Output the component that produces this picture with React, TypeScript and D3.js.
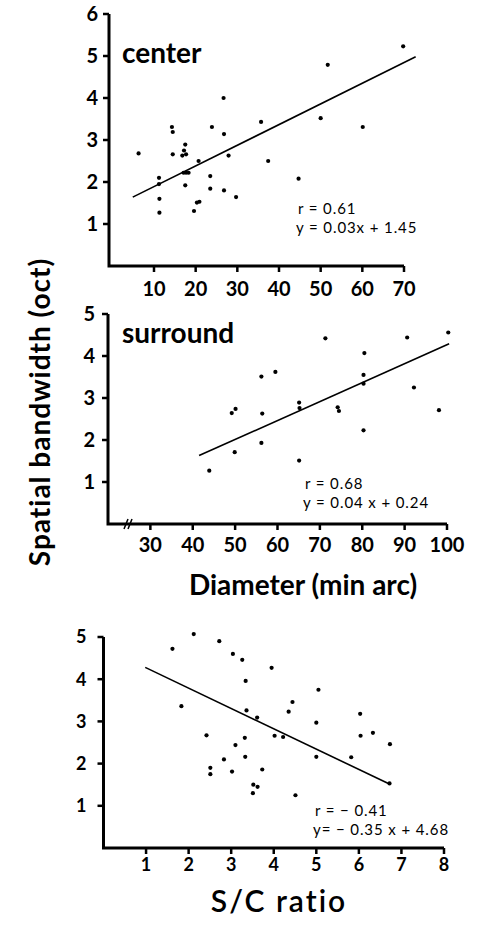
import * as d3 from 'd3';
import React from 'react';

// center panel: diameter (min arc) vs bandwidth (oct)
const centerDiam = [6.3, 11.2, 11.2, 11.3, 11.3, 14.3, 14.5, 14.5, 16.8, 17.2, 17.5, 17.7, 17.1, 17.7, 18.3, 17.5, 19.6, 20.3, 20.9, 20.7, 23.5, 23.5, 23.9, 26.7, 26.8, 26.8, 27.9, 29.7, 35.7, 37.4, 44.7, 50.0, 51.7, 60.1, 69.8];
const centerBw = [2.68, 2.10, 1.95, 1.60, 1.27, 3.31, 3.19, 2.66, 2.63, 2.75, 2.89, 2.66, 2.22, 2.22, 2.22, 1.92, 1.31, 1.51, 1.53, 2.50, 2.14, 1.84, 3.31, 4.0, 3.14, 1.80, 2.63, 1.64, 3.43, 2.50, 2.08, 3.52, 4.79, 3.31, 5.23];
const centerFitX = [4.9, 72.8];
const centerFitY = [1.64, 4.98];
const centerXTicks = [10, 20, 30, 40, 50, 60, 70];
const centerYTicks = [1, 2, 3, 4, 5, 6];

// surround panel
const surroundDiam = [43.9, 49.2, 50.1, 49.9, 56.2, 56.4, 56.2, 59.5, 65.1, 65.2, 65.1, 71.3, 74.2, 74.5, 80.5, 80.3, 80.3, 80.3, 90.6, 92.2, 98.1, 100.3];
const surroundBw = [1.27, 2.64, 2.74, 1.71, 3.51, 2.63, 1.93, 3.62, 2.89, 2.76, 1.51, 4.42, 2.78, 2.69, 4.07, 3.55, 3.34, 2.23, 4.44, 3.25, 2.71, 4.56];
const surroundFitX = [41.5, 100.5];
const surroundFitY = [1.63, 4.29];
const surroundXTicks = [30, 40, 50, 60, 70, 80, 90, 100];
const surroundYTicks = [1, 2, 3, 4, 5];

// S/C ratio panel
const scRatio = [1.62, 1.83, 2.12, 2.42, 2.51, 2.51, 2.72, 2.83, 3.02, 3.04, 3.10, 3.26, 3.32, 3.33, 3.34, 3.36, 3.52, 3.51, 3.62, 3.61, 3.73, 3.95, 4.02, 4.22, 4.35, 4.44, 4.51, 5.0, 5.0, 5.05, 5.82, 6.03, 6.04, 6.33, 6.73, 6.72];
const scBw = [4.72, 3.36, 5.07, 2.67, 1.90, 1.75, 4.90, 2.10, 1.81, 4.60, 2.44, 4.46, 2.61, 2.16, 3.96, 3.26, 1.50, 1.30, 1.45, 3.09, 1.86, 4.27, 2.66, 2.63, 3.23, 3.46, 1.25, 2.97, 2.16, 3.75, 2.15, 3.18, 2.66, 2.73, 2.46, 1.53];
const scFitX = [0.98, 6.73];
const scFitY = [4.28, 1.51];
const scXTicks = [1, 2, 3, 4, 5, 6, 7, 8];
const scYTicks = [1, 2, 3, 4, 5];

const FONT = 'Lato, "DejaVu Sans", sans-serif';

function Panel({ xs, ys, fitX, fitY, xTicks, yTicks, xDomain, xRange, yDomain, yRange,
  label, stats, statX, statY, tickSize, xLabelGap, yLabelGap, axisBreak }) {
  const x = d3.scaleLinear().domain(xDomain).range(xRange);
  const y = d3.scaleLinear().domain(yDomain).range(yRange);
  const x0 = xRange[0];
  const y0 = yRange[0];
  const xEnd = x(xTicks[xTicks.length - 1]);
  const yTop = y(yTicks[yTicks.length - 1]);
  const fit = d3.line()(fitX.map((v, i) => [x(v), y(fitY[i])]));

  return (
    <g>
      {/* axes */}
      <path d={`M${x0},${yTop}V${y0}H${xEnd}`} fill="none" stroke="#000" strokeWidth={3} />
      {xTicks.map(t => (
        <g key={'x' + t}>
          <line x1={x(t)} x2={x(t)} y1={y0} y2={y0 + 6} stroke="#000" strokeWidth={2.5} />
          <text x={x(t)} y={y0 + xLabelGap} textAnchor="middle" fontSize={tickSize}
            fontFamily={FONT} fontWeight="bold">{t}</text>
        </g>
      ))}
      {yTicks.map(t => (
        <g key={'y' + t}>
          <line x1={x0 - 6} x2={x0} y1={y(t)} y2={y(t)} stroke="#000" strokeWidth={2.5} />
          <text x={x0 - yLabelGap} y={y(t)} dy="0.36em" textAnchor="end" fontSize={tickSize}
            fontFamily={FONT} fontWeight="bold">{t}</text>
        </g>
      ))}
      {axisBreak && (
        <g stroke="#000" strokeWidth={1.5}>
          <line x1={axisBreak - 4} x2={axisBreak} y1={y0 + 5} y2={y0 - 5} />
          <line x1={axisBreak} x2={axisBreak + 4} y1={y0 + 5} y2={y0 - 5} />
        </g>
      )}
      {/* regression line */}
      <path d={fit} fill="none" stroke="#000" strokeWidth={1.6} />
      {xs.map((v, i) => (
        <circle key={i} cx={x(v)} cy={y(ys[i])} r={2.1} fill="#000" />
      ))}
      {label && (
        <text x={label.x} y={label.y} fontSize={28} fontFamily={FONT} fontWeight="bold">{label.text}</text>
      )}
      {stats.map((s, i) => (
        <text key={i} x={statX[i]} y={statY[i]} fontSize={15} letterSpacing={0.9} fontFamily={FONT}>{s}</text>
      ))}
    </g>
  );
}

export default function App() {
  return (
    <svg width={479} height={932} style={{ position: 'absolute', left: 0, top: 0, background: '#fff' }}>
      <Panel xs={centerDiam} ys={centerBw} fitX={centerFitX} fitY={centerFitY}
        xTicks={centerXTicks} yTicks={centerYTicks}
        xDomain={[-0.8, 70]} xRange={[109, 404]} yDomain={[0, 6]} yRange={[266, 14]}
        label={{ text: 'center', x: 122, y: 63 }}
        stats={['r = 0.61', 'y = 0.03x + 1.45']} statX={[298, 296]} statY={[214, 233]}
        tickSize={20} xLabelGap={30} yLabelGap={11} />
      <Panel xs={surroundDiam} ys={surroundBw} fitX={surroundFitX} fitY={surroundFitY}
        xTicks={surroundXTicks} yTicks={surroundYTicks}
        xDomain={[20, 100]} xRange={[108, 447]} yDomain={[0, 5]} yRange={[524, 314]}
        label={{ text: 'surround', x: 122, y: 343 }}
        stats={['r = 0.68', 'y = 0.04 x + 0.24']} statX={[305, 303]} statY={[489, 508]}
        tickSize={20} xLabelGap={28} yLabelGap={13} axisBreak={128} />
      <Panel xs={scRatio} ys={scBw} fitX={scFitX} fitY={scFitY}
        xTicks={scXTicks} yTicks={scYTicks}
        xDomain={[0, 8]} xRange={[103.5, 444]} yDomain={[0, 5]} yRange={[848, 637]}
        stats={['r = − 0.41', 'y= − 0.35 x + 4.68']} statX={[315, 313]} statY={[816, 835]}
        tickSize={18} xLabelGap={23} yLabelGap={17} />

      <text transform="translate(50,412) rotate(-90)" textAnchor="middle" fontSize={28}
        fontFamily={FONT} fontWeight="bold" letterSpacing={1}>Spatial bandwidth (oct)</text>
      <text x={303} y={595} textAnchor="middle" fontSize={28} fontFamily={FONT} fontWeight="bold">Diameter (min arc)</text>
      <text x={279} y={912} textAnchor="middle" fontSize={30} fontFamily={FONT} fontWeight={600} letterSpacing={2}>S/C ratio</text>
    </svg>
  );
}
